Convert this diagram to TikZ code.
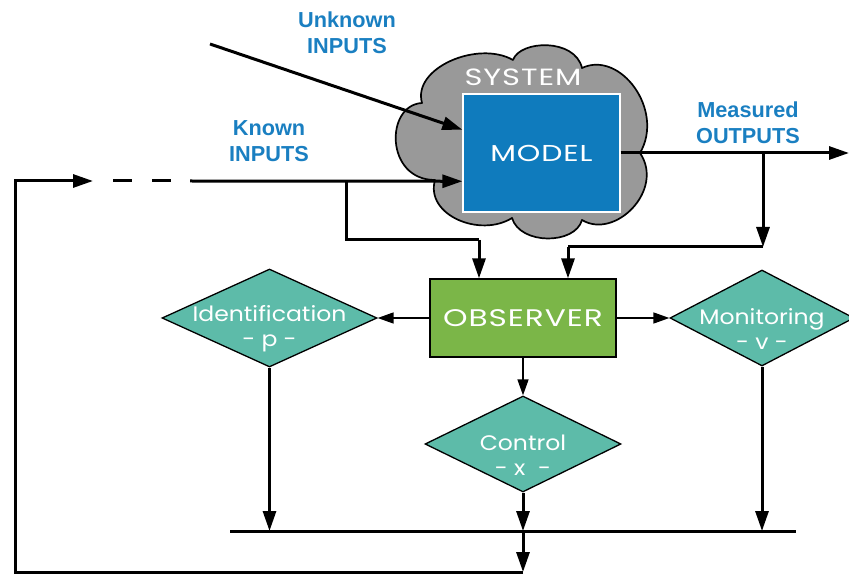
\documentclass[tikz,border=0pt]{standalone}
\usepackage{fontspec}
\setmainfont{Liberation Sans}
\newfontfamily\geo[FakeStretch=1.12]{Poppins}
\newfontfamily\geocaps[FakeStretch=1.3,LetterSpace=4]{Poppins}
\usetikzlibrary{shapes.geometric,arrows.meta,calc}
\definecolor{lblblue}{HTML}{1A7FC1}
\definecolor{modelblue}{HTML}{0F7BBD}
\definecolor{obsgreen}{HTML}{7BB648}
\definecolor{diamteal}{HTML}{5DBBA9}
\definecolor{cloudgray}{HTML}{999999}
\begin{document}
\begin{tikzpicture}[x=1pt,y=-1pt,
  thickline/.style={line width=3pt},
  thinline/.style={line width=1.6pt},
  bigarrow/.style={thickline,-{Triangle[length=20pt,width=13pt]}},
  smallarrow/.style={thinline,-{Triangle[length=16pt,width=11pt]}},
  bluelabel/.style={text=lblblue,font=\bfseries\fontsize{21.7}{26}\selectfont,align=center,inner sep=0pt},
  geotext/.style={text=white,font=\geo\fontsize{21}{25}\selectfont,align=center,inner sep=0pt},
  capstext/.style={text=white,font=\geocaps\fontsize{23}{25}\selectfont,align=center,inner sep=0pt},
  diam/.style={diamond,draw=black,line width=1.3pt,fill=diamteal,inner sep=0pt},
  dlabel/.style={geotext,yshift=-11pt},
  cloudstyle/.style={draw=black,line width=1.7pt,fill=cloudgray,line join=round},
]
\useasboundingbox (0,0) rectangle (849,577);

% cloud
\path[cloudstyle] (422,103)
  .. controls (412,68) and (478,40) .. (513,60)
  .. controls (520,40) and (575,38) .. (582,68)
  .. controls (620,50) and (665,110) .. (640,153)
  .. controls (665,190) and (615,240) .. (582,220)
  .. controls (575,245) and (520,245) .. (512,218)
  .. controls (480,238) and (425,215) .. (435,180)
  .. controls (385,180) and (385,105) .. (422,103) -- cycle;
\node[capstext,font=\geocaps\fontsize{23.5}{25}\selectfont] (system) at (523,77) {SYSTEM};
\node[draw=white,line width=1.3pt,fill=modelblue,minimum width=157pt,minimum height=118pt,inner sep=0pt] (model) at (541.5,153) {};
\node[capstext] (modeltext) at (model.center) {MODEL};

% labels
\node[bluelabel] (unk) at (347,33) {Unknown\\INPUTS};
\node[bluelabel] (known) at (269,141) {Known\\INPUTS};
\node[bluelabel] (meas) at (748,123) {Measured\\OUTPUTS};

% observer and diamonds
\node[draw=black,line width=1.3pt,fill=obsgreen,minimum width=186pt,minimum height=78pt,inner sep=0pt] (obs) at (523,318) {};
\node[capstext,font=\geocaps\fontsize{24}{25}\selectfont] (obstext) at (obs.center) {OBSERVER};
\node[diam,minimum width=215pt,minimum height=98pt,label={[dlabel]center:{Identification\\- p -}}] (ident) at (269.5,318) {};
\node[diam,minimum width=184pt,minimum height=96pt,label={[dlabel]center:{Monitoring\\- v -}}] (monit) at (762,318) {};
\node[diam,minimum width=196pt,minimum height=96pt,label={[dlabel]center:{Control\\- x \ -}}] (ctrl) at (523,444) {};

% coordinates
\coordinate (unkstart) at (210,44);
\coordinate (unkend) at ($(model.north west)!0.305!(model.south west)$);
\coordinate (knownend) at ($(model.north west)!0.737!(model.south west)$);
\coordinate (knownstart) at (190,181);
\coordinate (dashstart) at (93,181);
\coordinate (loopA) at (15,181);
\coordinate (loopB) at (15,572);
\coordinate (loopC) at (523,572);
\coordinate (branchK) at (346,181);
\coordinate (branchK2) at (346,240);
\coordinate (branchK3) at (479,240);
\coordinate (outend) at (849,153);
\coordinate (outstart) at (model.east |- outend);
\coordinate (branchM) at (763,153);
\coordinate (branchM2) at (763,247);
\coordinate (branchM3) at (568,247);
\coordinate (barL) at (230,531);
\coordinate (barR) at (796,531);
\coordinate (barC) at (523,531);

% inputs
\draw[bigarrow] (unkstart) -- (unkend);
\draw[bigarrow] (knownstart) -- (knownend);
\draw[thickline,dash pattern=on 19pt off 20pt,dash phase=19pt] (dashstart) -- (knownstart);
\draw[thickline] (branchK) -- (branchK2) -- (branchK3);
\draw[bigarrow] (branchK3) -- (branchK3 |- obs.north);

% outputs
\draw[bigarrow] (outstart) -- (outend);
\draw[bigarrow] (branchM) -- (branchM2);
\draw[thickline] (branchM2) -- (branchM3);
\draw[bigarrow] (branchM3) -- (branchM3 |- obs.north);

% observer outputs
\draw[smallarrow] (obs.west) -- (ident.east);
\draw[smallarrow] (obs.east) -- (monit.west);
\draw[smallarrow] (obs.south) -- (ctrl.north);

% to bar
\draw[thickline] (barL) -- (barR);
\draw[bigarrow] (ident.south) -- (ident.south |- barL);
\draw[bigarrow] (ctrl.south) -- (barC);
\draw[bigarrow] (monit.south) -- (monit.south |- barR);

% feedback loop
\draw[bigarrow] (barC) -- (loopC);
\draw[thickline] (loopC) -- (loopB) -- (loopA) -- ++(2,0);
\draw[bigarrow] (loopA) -- (dashstart);
\end{tikzpicture}
\end{document}
